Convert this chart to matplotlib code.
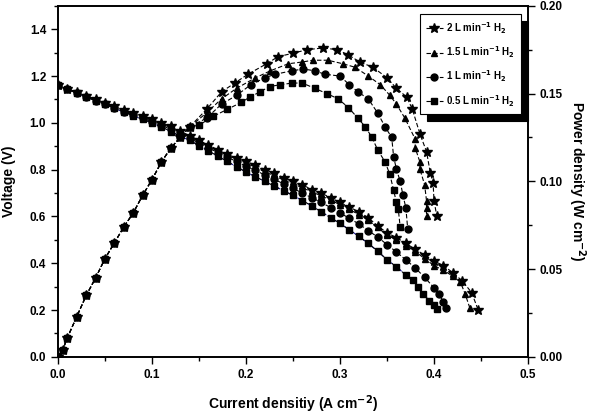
import matplotlib
matplotlib.use("Agg")
import matplotlib.pyplot as plt

plt.rcParams["font.family"] = ["Liberation Sans", "DejaVu Sans"]
plt.rcParams["font.weight"] = "bold"
plt.rcParams["mathtext.default"] = "bf"

labels = ["2 L min$^{-1}$ H$_2$", "1.5 L min$^{-1}$ H$_2$",
          "1 L min$^{-1}$ H$_2$", "0.5 L min$^{-1}$ H$_2$"]
markers = ["*", "^", "o", "s"]
x_ticks = [0.0, 0.1, 0.2, 0.3, 0.4, 0.5]
x_tick_labels = ["0.0", "0.1", "0.2", "0.3", "0.4", "0.5"]
v_ticks = [0.0, 0.2, 0.4, 0.6, 0.8, 1.0, 1.2, 1.4]
v_tick_labels = ["0.0", "0.2", "0.4", "0.6", "0.8", "1.0", "1.2", "1.4"]
p_ticks = [0.0, 0.05, 0.10, 0.15, 0.20]
p_tick_labels = ["0.00", "0.05", "0.10", "0.15", "0.20"]

# polarization curves (voltage vs current density)
i_v_2 = [0, 0.01, 0.02, 0.03, 0.04, 0.05, 0.06, 0.07, 0.08, 0.09, 0.10, 0.11, 0.12, 0.13,
         0.14, 0.15, 0.16, 0.17, 0.18, 0.19, 0.20, 0.21, 0.22, 0.23, 0.24, 0.25, 0.26, 0.27,
         0.28, 0.29, 0.30, 0.31, 0.32, 0.33, 0.34, 0.35, 0.36, 0.37, 0.38, 0.39, 0.40, 0.41,
         0.42, 0.43, 0.44, 0.447]
v_2 = [1.16, 1.145, 1.13, 1.115, 1.10, 1.085, 1.07, 1.055, 1.04, 1.03, 1.015, 1.0, 0.985,
       0.965, 0.945, 0.925, 0.905, 0.885, 0.865, 0.85, 0.835, 0.82, 0.80, 0.785, 0.765, 0.75,
       0.735, 0.715, 0.70, 0.68, 0.66, 0.64, 0.62, 0.595, 0.56, 0.53, 0.51, 0.485, 0.46, 0.435,
       0.41, 0.39, 0.36, 0.325, 0.275, 0.20]
i_v_15 = [0, 0.01, 0.02, 0.03, 0.04, 0.05, 0.06, 0.07, 0.08, 0.09, 0.10, 0.11, 0.12, 0.13,
          0.14, 0.15, 0.16, 0.17, 0.18, 0.19, 0.20, 0.21, 0.22, 0.23, 0.24, 0.25, 0.26, 0.27,
          0.28, 0.29, 0.30, 0.31, 0.32, 0.33, 0.34, 0.35, 0.36, 0.37, 0.38, 0.39, 0.40, 0.41,
          0.42, 0.428, 0.433, 0.438]
v_15 = [1.16, 1.145, 1.13, 1.115, 1.10, 1.083, 1.068, 1.052, 1.037, 1.025, 1.01, 0.995, 0.98,
        0.96, 0.94, 0.92, 0.90, 0.88, 0.86, 0.845, 0.828, 0.81, 0.79, 0.775, 0.755, 0.74,
        0.722, 0.705, 0.688, 0.67, 0.65, 0.63, 0.608, 0.585, 0.553, 0.52, 0.50, 0.475, 0.45,
        0.42, 0.39, 0.37, 0.345, 0.32, 0.27, 0.21]
i_v_1 = [0, 0.01, 0.02, 0.03, 0.04, 0.05, 0.06, 0.07, 0.08, 0.09, 0.10, 0.11, 0.12, 0.13,
         0.14, 0.15, 0.16, 0.17, 0.18, 0.19, 0.20, 0.21, 0.22, 0.23, 0.24, 0.25, 0.26, 0.27,
         0.28, 0.29, 0.30, 0.31, 0.32, 0.33, 0.34, 0.35, 0.36, 0.37, 0.38, 0.39, 0.40, 0.405,
         0.41, 0.413]
v_1 = [1.16, 1.143, 1.127, 1.11, 1.095, 1.08, 1.063, 1.048, 1.033, 1.02, 1.005, 0.99, 0.972,
       0.953, 0.935, 0.913, 0.893, 0.873, 0.853, 0.835, 0.815, 0.797, 0.777, 0.758, 0.74, 0.72,
       0.70, 0.68, 0.66, 0.638, 0.615, 0.592, 0.568, 0.54, 0.512, 0.48, 0.448, 0.415, 0.38,
       0.34, 0.295, 0.27, 0.235, 0.21]
i_v_05 = [0, 0.01, 0.02, 0.03, 0.04, 0.05, 0.06, 0.07, 0.08, 0.09, 0.10, 0.11, 0.12, 0.13,
          0.14, 0.15, 0.16, 0.17, 0.18, 0.19, 0.20, 0.21, 0.22, 0.23, 0.24, 0.25, 0.26, 0.27,
          0.28, 0.29, 0.30, 0.31, 0.32, 0.33, 0.34, 0.35, 0.36, 0.37, 0.378, 0.383, 0.388,
          0.395, 0.400, 0.403]
v_05 = [1.16, 1.143, 1.127, 1.11, 1.095, 1.08, 1.062, 1.046, 1.03, 1.015, 1.0, 0.983, 0.963,
        0.943, 0.925, 0.903, 0.88, 0.858, 0.835, 0.812, 0.79, 0.77, 0.75, 0.73, 0.71, 0.69,
        0.668, 0.645, 0.62, 0.595, 0.57, 0.543, 0.515, 0.485, 0.452, 0.415, 0.385, 0.35,
        0.33, 0.30, 0.27, 0.24, 0.22, 0.205]

# power density curves
i_p_rise = [0, 0.005, 0.01, 0.02, 0.03, 0.04, 0.05, 0.06, 0.07, 0.08, 0.09, 0.10, 0.11,
            0.12, 0.13, 0.14]
p_rise = [0, 0.004, 0.011, 0.023, 0.035, 0.045, 0.056, 0.065, 0.074, 0.082, 0.092, 0.101,
          0.111, 0.119, 0.125, 0.131]
i_p_2 = i_p_rise + [0.158, 0.174, 0.188, 0.202, 0.222, 0.234, 0.25, 0.265, 0.282, 0.297,
                    0.309, 0.321, 0.335, 0.35, 0.36, 0.371, 0.377, 0.385, 0.392, 0.396,
                    0.399, 0.40, 0.403]
p_2 = p_rise + [0.141, 0.151, 0.156, 0.161, 0.167, 0.171, 0.173, 0.175, 0.176, 0.175, 0.172,
                0.168, 0.165, 0.159, 0.153, 0.148, 0.141, 0.127, 0.117, 0.105, 0.099, 0.089,
                0.080]
i_p_15 = i_p_rise + [0.158, 0.174, 0.19, 0.21, 0.226, 0.245, 0.26, 0.271, 0.287, 0.303,
                     0.316, 0.33, 0.343, 0.353, 0.36, 0.369, 0.38, 0.38, 0.385, 0.385, 0.39,
                     0.392, 0.392, 0.392]
p_15 = p_rise + [0.139, 0.147, 0.153, 0.159, 0.163, 0.167, 0.168, 0.169, 0.169, 0.167, 0.165,
                 0.160, 0.155, 0.149, 0.144, 0.136, 0.124, 0.119, 0.111, 0.107, 0.098, 0.089,
                 0.085, 0.080]
i_p_1 = i_p_rise + [0.158, 0.174, 0.19, 0.205, 0.22, 0.231, 0.249, 0.261, 0.273, 0.284, 0.30,
                    0.31, 0.319, 0.33, 0.34, 0.348, 0.355, 0.357, 0.36, 0.364, 0.367, 0.37,
                    0.372]
p_1 = p_rise + [0.136, 0.144, 0.149, 0.155, 0.159, 0.161, 0.163, 0.164, 0.163, 0.161, 0.160,
                0.155, 0.151, 0.147, 0.139, 0.131, 0.125, 0.114, 0.107, 0.100, 0.092, 0.085,
                0.073]
i_p_05 = i_p_rise + [0.15, 0.165, 0.18, 0.195, 0.204, 0.215, 0.225, 0.236, 0.249, 0.26, 0.273,
                     0.286, 0.298, 0.309, 0.319, 0.327, 0.334, 0.34, 0.348, 0.353, 0.357,
                     0.36, 0.362, 0.364]
p_05 = p_rise + [0.132, 0.137, 0.141, 0.145, 0.148, 0.151, 0.154, 0.155, 0.156, 0.156, 0.153,
                 0.150, 0.147, 0.142, 0.136, 0.131, 0.125, 0.118, 0.111, 0.104, 0.095, 0.088,
                 0.084, 0.074]

fig = plt.figure(figsize=(5.98, 4.15), dpi=100)
ax = fig.add_axes([0.097, 0.14, 0.786, 0.846])
ax2 = ax.twinx()

pol = [(i_v_2, v_2), (i_v_15, v_15), (i_v_1, v_1), (i_v_05, v_05)]
pwr = [(i_p_2, p_2), (i_p_15, p_15), (i_p_1, p_1), (i_p_05, p_05)]
sizes = [7, 5, 5, 4.5]

ax.plot(i_v_05, v_05, color="#2020a0", lw=0.8, ls="--", zorder=1)
handles = []
for (x, y), m, s, lab in zip(pol, markers, sizes, labels):
    h, = ax.plot(x, y, color="black", lw=0.8, ls=(0, (4, 2)), marker=m, ms=s, label=lab)
    handles.append(h)
for (x, y), m, s in zip(pwr, markers, sizes):
    ax2.plot(x, y, color="black", lw=0.8, ls=(0, (4, 2)), marker=m, ms=s)

ax.set_xticks(x_ticks, x_tick_labels)
ax.set_xticks([0.05, 0.15, 0.25, 0.35, 0.45], minor=True)
ax.set_yticks(v_ticks, v_tick_labels)
ax.set_yticks([0.1, 0.3, 0.5, 0.7, 0.9, 1.1, 1.3, 1.5], minor=True)
ax2.set_yticks(p_ticks, p_tick_labels)
ax2.set_yticks([0.025, 0.075, 0.125, 0.175], minor=True)
ax.set_xlim(0, 0.5)
ax.set_ylim(0, 1.5)
ax2.set_ylim(0, 0.2)

for a in (ax, ax2):
    a.tick_params(which="major", direction="out", length=5, width=1, labelsize=8.5)
    a.tick_params(which="minor", direction="out", length=3, width=1)
    for sp in a.spines.values():
        sp.set_linewidth(1.2)
for t in ax.get_xticklabels() + ax.get_yticklabels() + ax2.get_yticklabels():
    t.set_fontweight("bold")

ax.set_xlabel("Current densitiy (A cm$^{-2}$)", fontsize=10, fontweight="bold", labelpad=9)
ax.set_ylabel("Voltage (V)", fontsize=10, fontweight="bold", labelpad=10)
ax2.set_ylabel("Power density (W cm$^{-2}$)", fontsize=10, fontweight="bold",
               rotation=270, labelpad=18)

leg = ax.legend(handles=handles, loc="upper right", bbox_to_anchor=(0.995, 0.99),
                fontsize=7, frameon=True, fancybox=False, edgecolor="black",
                handlelength=1.8, handletextpad=0.3, labelspacing=0.9, borderpad=0.6,
                shadow={"color": "black", "alpha": 1, "ox": 5, "oy": -5})
leg.get_frame().set_linewidth(0.8)

fig.savefig("out.png", dpi=100)
